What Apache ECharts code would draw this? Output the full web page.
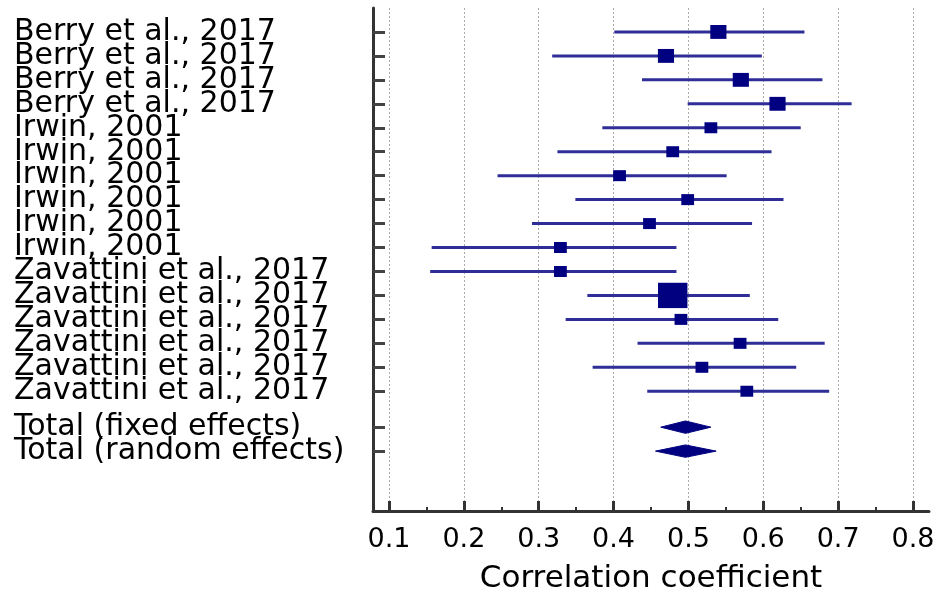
<!DOCTYPE html>
<html>
<head>
    <meta charset="utf-8">
    <title>Forest plot</title>
    <script src="https://cdn.jsdelivr.net/npm/echarts@6.0.0/dist/echarts.min.js"></script>
    <style>
        html, body { margin: 0; padding: 0; background: #fff; }
    </style>
</head>
<body>
<div id="main" style="width: 938px;height:599px;"></div>
<script type="text/javascript">
    // studies, one row each
    var studies = ['Berry et al., 2017', 'Berry et al., 2017', 'Berry et al., 2017', 'Berry et al., 2017',
        'Irwin, 2001', 'Irwin, 2001', 'Irwin, 2001', 'Irwin, 2001', 'Irwin, 2001', 'Irwin, 2001',
        'Zavattini et al., 2017', 'Zavattini et al., 2017', 'Zavattini et al., 2017',
        'Zavattini et al., 2017', 'Zavattini et al., 2017', 'Zavattini et al., 2017'];
    var estimate = [0.540, 0.470, 0.570, 0.619, 0.530, 0.479, 0.408, 0.499, 0.448, 0.329,
        0.329, 0.479, 0.490, 0.569, 0.518, 0.578];
    var lower = [0.401, 0.318, 0.438, 0.499, 0.385, 0.325, 0.245, 0.349, 0.291, 0.157,
        0.155, 0.365, 0.336, 0.432, 0.372, 0.445];
    var upper = [0.655, 0.598, 0.679, 0.718, 0.650, 0.611, 0.551, 0.627, 0.585, 0.484,
        0.484, 0.582, 0.620, 0.682, 0.644, 0.688];
    // relative weight (%) -> square size
    var weight = [7.0, 7.0, 7.0, 7.0, 4.4, 4.4, 4.4, 4.4, 4.4, 4.4,
        4.4, 23.3, 4.4, 4.4, 4.4, 4.4];

    // pooled estimates
    var totals = ['Total (fixed effects)', 'Total (random effects)'];
    var totalEstimate = [0.496, 0.496];
    var totalLower = [0.463, 0.456];
    var totalUpper = [0.530, 0.537];

    var xTicks = [0.1, 0.2, 0.3, 0.4, 0.5, 0.6, 0.7, 0.8];
    var xMinorTicks = [0.15, 0.25, 0.35, 0.45, 0.55, 0.65, 0.75];

    var rowPos = [];
    var rowName = {};
    var studyData = [];
    var totalData = [];
    for (var i = 0; i < studies.length; i++) {
        rowPos.push(i + 1);
        rowName[String(i + 1)] = studies[i];
        studyData.push([lower[i], upper[i], estimate[i], i + 1, weight[i]]);
    }
    for (var j = 0; j < totals.length; j++) {
        var p = studies.length + 1.5 + j;
        rowPos.push(p);
        rowName[String(p)] = totals[j];
        totalData.push([totalLower[j], totalUpper[j], totalEstimate[j], p]);
    }
    // the rows sit closer than the text height, so echarts hides the first/last
    // label as overlapping; a doubled first and last value absorbs that
    var yTickValues = [rowPos[0]].concat(rowPos, [rowPos[rowPos.length - 1]]);

    var myChart = echarts.init(document.getElementById('main'));
    var font = 'DejaVu Sans';

    function renderStudy(params, api) {
        var y = api.value(3);
        var a = api.coord([api.value(0), y]);
        var b = api.coord([api.value(1), y]);
        var c = api.coord([api.value(2), y]);
        var w = Math.sqrt(api.value(4)) * 6.1;
        var h = w * 0.86;
        return {
            type: 'group',
            children: [
                {type: 'line', shape: {x1: a[0], y1: a[1], x2: b[0], y2: b[1]},
                    style: {stroke: '#2e2e96', lineWidth: 3}},
                {type: 'rect', shape: {x: c[0] - w / 2, y: c[1] - h / 2, width: w, height: h},
                    style: {fill: '#000080'}}
            ]
        };
    }

    function renderDiamond(params, api) {
        var y = api.value(3);
        var a = api.coord([api.value(0), y]);
        var b = api.coord([api.value(1), y]);
        var c = api.coord([api.value(2), y]);
        var h = 6.2;
        return {
            type: 'polygon',
            shape: {points: [[a[0], a[1]], [c[0], c[1] - h], [b[0], b[1]], [c[0], c[1] + h]]},
            style: {fill: '#000080', stroke: '#000080', lineWidth: 1}
        };
    }

    var xMin = 0.1 - 16 / 749;
    var xMax = 0.8 + 16 / 749;

    var option = {
        animation: false,
        grid: {left: 373, right: 9, top: 8, bottom: 86},
        xAxis: [{
            type: 'value',
            min: xMin,
            max: xMax,
            position: 'bottom',
            name: 'Correlation coefficient',
            nameLocation: 'middle',
            nameGap: 52,
            nameTextStyle: {fontFamily: font, fontSize: 31, color: '#000'},
            axisLine: {show: true, onZero: false, lineStyle: {color: '#333', width: 3}},
            axisTick: {show: true, inside: true, length: 10, customValues: xTicks,
                lineStyle: {color: '#333', width: 3}},
            axisLabel: {customValues: xTicks, margin: 15, fontFamily: font, fontSize: 27, color: '#000',
                formatter: function (v) { return v.toFixed(1); }},
            splitLine: {show: true, lineStyle: {color: '#aaa', width: 1, type: [2, 2]}}
        }, {
            type: 'value',
            min: xMin,
            max: xMax,
            position: 'bottom',
            axisLine: {show: false, onZero: false},
            axisTick: {show: true, inside: true, length: 4, customValues: xMinorTicks,
                lineStyle: {color: '#333', width: 2}},
            axisLabel: {show: false},
            splitLine: {show: false}
        }],
        yAxis: {
            type: 'value',
            inverse: true,
            min: 0,
            max: 21,
            axisLine: {show: true, onZero: false, lineStyle: {color: '#333', width: 3}},
            axisTick: {show: true, inside: true, length: 12, customValues: yTickValues,
                lineStyle: {color: '#444', width: 3}},
            axisLabel: {customValues: yTickValues, align: 'left', margin: 359,
                hideOverlap: false, fontFamily: font, fontSize: 30, color: '#000',
                formatter: function (v) { return rowName[String(v)] || ''; }},
            splitLine: {show: false}
        },
        series: [{
            type: 'custom',
            xAxisIndex: 0,
            renderItem: renderStudy,
            encode: {x: [0, 1, 2], y: 3},
            data: studyData
        }, {
            type: 'custom',
            xAxisIndex: 0,
            renderItem: renderDiamond,
            encode: {x: [0, 1, 2], y: 3},
            data: totalData
        }]
    };
    myChart.setOption(option);
</script>
</body>
</html>
